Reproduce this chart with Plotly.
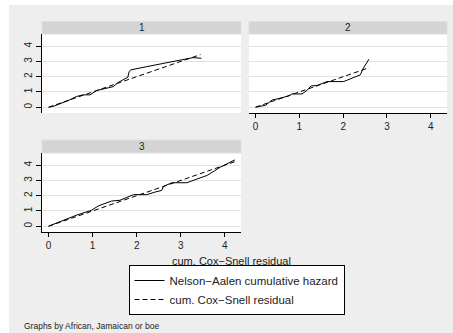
import plotly.graph_objects as go

W, H = 453, 333

groups = ["1", "2", "3"]

# Nelson-Aalen cumulative hazard vs cum. Cox-Snell residual, per group
na1_x = [0, 0.14, 0.48, 0.63, 0.78, 0.94, 1.09, 1.39, 1.47, 1.58, 1.70, 1.80, 1.83, 1.87, 2.23, 2.53, 2.99, 3.28, 3.47]
na1_y = [0, 0.09, 0.48, 0.70, 0.81, 0.81, 1.09, 1.31, 1.35, 1.62, 1.79, 1.97, 2.34, 2.45, 2.66, 2.82, 3.06, 3.25, 3.21]
na2_x = [0, 0.23, 0.38, 0.49, 0.76, 0.83, 1.06, 1.17, 1.27, 1.40, 1.63, 2.01, 2.39, 2.46, 2.59]
na2_y = [0, 0.13, 0.48, 0.54, 0.74, 0.87, 0.87, 1.09, 1.40, 1.42, 1.68, 1.68, 2.12, 2.56, 3.15]
na3_x = [0, 0.63, 0.97, 1.13, 1.43, 1.62, 1.93, 2.23, 2.42, 2.57, 2.61, 2.80, 3.14, 3.60, 3.90, 4.23]
na3_y = [0, 0.72, 1.04, 1.33, 1.65, 1.70, 2.07, 2.07, 2.24, 2.35, 2.61, 2.85, 2.85, 3.33, 3.87, 4.35]

# cum. Cox-Snell residual (45-degree reference line), per group
cs1 = [0, 3.45]
cs2 = [0, 2.59]
cs3 = [0, 4.23]

x_ticks = [0, 1, 2, 3, 4]
y_ticks = [0, 1, 2, 3, 4]

FONT = "Liberation Sans, Arial, sans-serif"
BG = "#eeeeee"
STRIP = "#d4d4d4"
GRID = "#e1e1e1"

def px_x(p):
    return p / W

def px_y(p):
    return 1 - p / H

# panel pixel boxes: (left, right, top, bottom)
panels = {
    "1": (42, 241, 34, 113),
    "2": (249, 447, 34, 113),
    "3": (42, 241, 153, 232),
}
strips = {
    "1": (42, 241, 21.5, 34),
    "2": (249, 447, 21.5, 34),
    "3": (42, 241, 140, 153),
}

fig = go.Figure()

data = [
    ("1", na1_x, na1_y, cs1, "x", "y"),
    ("2", na2_x, na2_y, cs2, "x2", "y2"),
    ("3", na3_x, na3_y, cs3, "x3", "y3"),
]
for g, nx, ny, cs, xa, ya in data:
    fig.add_trace(go.Scatter(x=nx, y=ny, mode="lines", xaxis=xa, yaxis=ya,
                             line=dict(color="black", width=1),
                             name="Nelson\u2212Aalen cumulative hazard",
                             legendgroup="na", showlegend=(g == "1")))
    fig.add_trace(go.Scatter(x=cs, y=cs, mode="lines", xaxis=xa, yaxis=ya,
                             line=dict(color="black", width=1, dash="5px,3px"),
                             name="cum. Cox\u2212Snell residual",
                             legendgroup="cs", showlegend=(g == "1")))

xr = [-0.15, 4.37]
yr = [-0.38, 4.8]

def xax(box, show):
    l, r, t, b = box
    return dict(domain=[px_x(l), px_x(r)], range=xr, showgrid=False, zeroline=False,
                showline=show, linecolor="black", linewidth=1,
                ticks="outside" if show else "", ticklen=4, tickcolor="black", tickwidth=1,
                tickvals=x_ticks, showticklabels=show,
                tickfont=dict(family=FONT, size=10, color="#222"))

def yax(box, show):
    l, r, t, b = box
    return dict(domain=[px_y(b), px_y(t)], range=yr, showgrid=True, gridcolor=GRID, gridwidth=1,
                zeroline=False, showline=show, linecolor="black", linewidth=1,
                ticks="outside" if show else "", ticklen=5, tickcolor="black", tickwidth=1,
                tickvals=y_ticks, showticklabels=show, tickangle=-90,
                tickfont=dict(family=FONT, size=10, color="#222"))

fig.update_layout(
    xaxis=dict(xax(panels["1"], False), anchor="y"),
    yaxis=dict(yax(panels["1"], True), anchor="x"),
    xaxis2=dict(xax(panels["2"], True), anchor="y2"),
    yaxis2=dict(yax(panels["2"], False), anchor="x2"),
    xaxis3=dict(xax(panels["3"], True), anchor="y3"),
    yaxis3=dict(yax(panels["3"], True), anchor="x3"),
)

shapes = [dict(type="rect", xref="paper", yref="paper",
               x0=px_x(9), x1=1, y0=0, y1=px_y(5),
               fillcolor=BG, line=dict(width=0), layer="below")]
for g in groups:
    l, r, t, b = panels[g]
    shapes.append(dict(type="rect", xref="paper", yref="paper",
                       x0=px_x(l), x1=px_x(r), y0=px_y(b), y1=px_y(t),
                       fillcolor="white", line=dict(width=0), layer="below"))
annotations = []
for g in groups:
    l, r, t, b = strips[g]
    shapes.append(dict(type="rect", xref="paper", yref="paper",
                       x0=px_x(l), x1=px_x(r), y0=px_y(b), y1=px_y(t),
                       fillcolor=STRIP, line=dict(color="#d9e0e3", width=1)))
    annotations.append(dict(xref="paper", yref="paper", x=px_x((l + r) / 2), y=px_y((t + b) / 2),
                            text=g, showarrow=False, xanchor="center", yanchor="middle",
                            font=dict(family=FONT, size=10, color="#222")))

annotations.append(dict(xref="paper", yref="paper", x=px_x(231), y=px_y(261),
                        text="cum. Cox\u2212Snell residual", showarrow=False,
                        xanchor="center", yanchor="middle",
                        font=dict(family=FONT, size=11, color="#222")))
annotations.append(dict(xref="paper", yref="paper", x=px_x(22), y=px_y(326),
                        text="Graphs by African, Jamaican or boe", showarrow=False,
                        xanchor="left", yanchor="middle",
                        font=dict(family=FONT, size=8.5, color="#222")))

fig.update_layout(
    width=W, height=H,
    margin=dict(l=0, r=0, t=0, b=0),
    paper_bgcolor="white", plot_bgcolor="rgba(0,0,0,0)",
    shapes=shapes, annotations=annotations,
    showlegend=True,
    legend=dict(x=px_x(236.5), y=px_y(290), xanchor="center", yanchor="middle",
                bgcolor="white", bordercolor="black", borderwidth=1,
                font=dict(family=FONT, size=11.5, color="#222"),
                tracegroupgap=0),
)

fig.write_html("out.html",
               config={"displayModeBar": False},
               post_script="document.body.style.margin='0px';document.body.style.padding='0px';")
